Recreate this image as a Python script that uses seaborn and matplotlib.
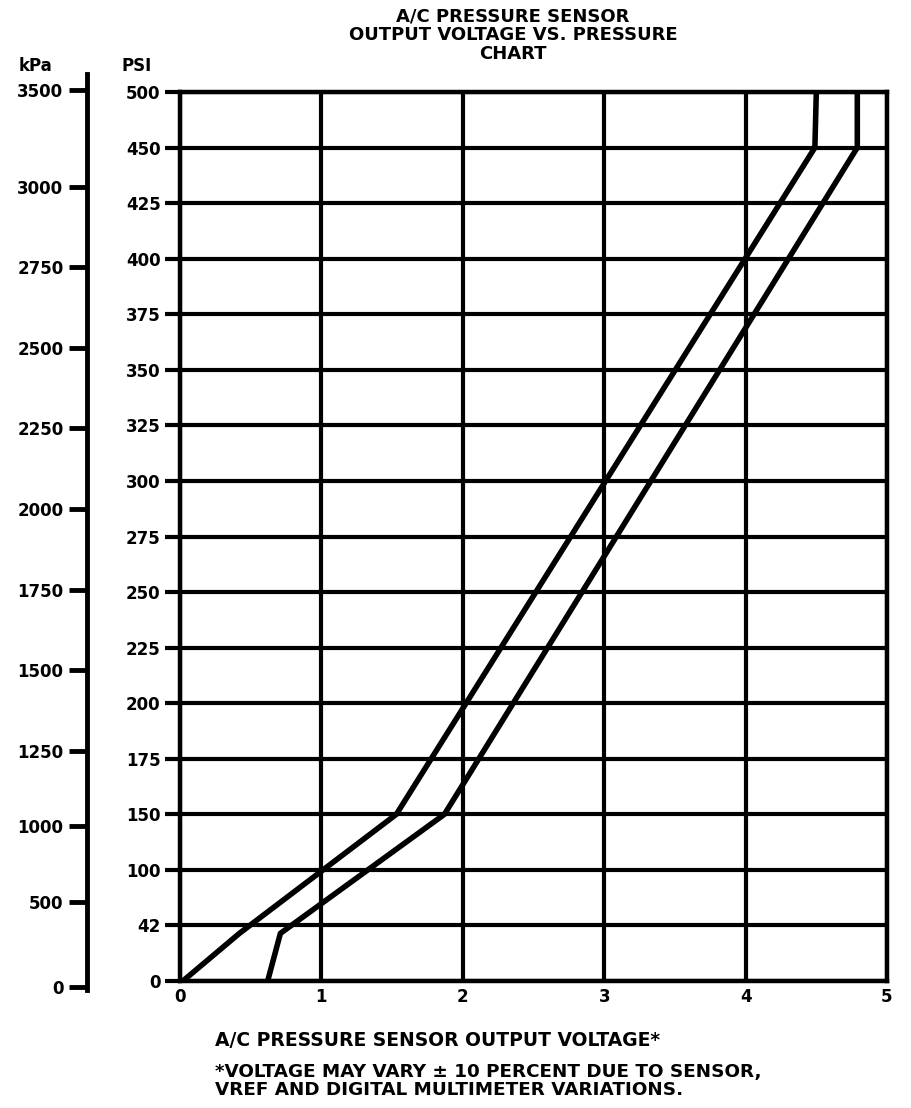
import numpy as np
import pandas as pd
import matplotlib
matplotlib.use("Agg")
import matplotlib.pyplot as plt
import seaborn as sns

# Axis labels of the chart (the PSI scale is not linear: rows are evenly spaced)
psi_ticks = [0, 42, 100, 150, 175, 200, 225, 250, 275, 300, 325, 350, 375, 400, 425, 450, 500]
kpa_ticks = [0, 500, 1000, 1250, 1500, 1750, 2000, 2250, 2500, 2750, 3000, 3500]
volt_ticks = [0, 1, 2, 3, 4, 5]

# Band edges: output voltage vs pressure (psi)
high_volts = [0.02, 0.42, 1.53, 4.49, 4.50]
high_psi = [0, 36, 150, 450, 500]
low_volts = [0.62, 0.71, 1.87, 4.79, 4.79]
low_psi = [0, 36, 150, 450, 500]

KPA_PER_PSI = 6.895


def psi_to_row(p):
    # map pressure onto the evenly spaced chart rows
    p = np.asarray(p, dtype=float)
    rows = np.interp(p, psi_ticks, np.arange(len(psi_ticks)))
    over = p > psi_ticks[-1]
    rows[over] = len(psi_ticks) - 1 + (p[over] - psi_ticks[-1]) / (psi_ticks[-1] - psi_ticks[-2])
    return rows


df = pd.concat([
    pd.DataFrame({'volts': high_volts, 'psi': high_psi, 'edge': 'high'}),
    pd.DataFrame({'volts': low_volts, 'psi': low_psi, 'edge': 'low'}),
])
df['row'] = psi_to_row(df['psi'])

sns.set_theme(style="white")
plt.rcParams['font.family'] = ['DejaVu Sans']
plt.rcParams['font.weight'] = 'bold'
plt.rcParams['text.color'] = 'black'

W, H = 912, 1108
fig = plt.figure(figsize=(W / 100, H / 100), dpi=100)
n_rows = len(psi_ticks) - 1
px_per_row = (981 - 92) / n_rows

# main grid
ax = fig.add_axes([180 / W, 1 - 981 / H, (887 - 180) / W, (981 - 92) / H])
for edge, grp in df.groupby('edge'):
    sns.lineplot(data=grp, x='volts', y='row', sort=False, estimator=None,
                 color='black', linewidth=4, ax=ax, zorder=5)
ax.set_xlim(0, 5)
ax.set_ylim(0, n_rows)
ax.set_xticks(volt_ticks, labels=[str(v) for v in volt_ticks])
ax.set_yticks(np.arange(len(psi_ticks)), labels=[str(p) for p in psi_ticks])
ax.grid(True, color='black', linewidth=3)
ax.tick_params(axis='y', left=True, length=11, width=3, pad=3, labelsize=12, colors='black')
ax.tick_params(axis='x', bottom=True, length=0, pad=5, labelsize=12, colors='black')
ax.set_xlabel('')
ax.set_ylabel('')
for s in ax.spines.values():
    s.set_visible(True)
    s.set_color('black')
    s.set_linewidth(3.2)

# separate kPa scale on the left
lo = (987 - 990) / px_per_row
hi = (987 - 74) / px_per_row
ax_k = fig.add_axes([87 / W, 1 - 990 / H, 0.0001, (990 - 74) / H])
ax_k.set_ylim(lo, hi)
ax_k.set_yticks(psi_to_row(np.array(kpa_ticks) / KPA_PER_PSI), labels=[str(k) for k in kpa_ticks])
ax_k.set_xticks([])
ax_k.tick_params(axis='y', left=True, length=13, width=3.5, pad=4, labelsize=12, colors='black')
for name, s in ax_k.spines.items():
    s.set_visible(name == 'left')
ax_k.spines['left'].set_color('black')
ax_k.spines['left'].set_linewidth(3.5)
ax_k.patch.set_visible(False)

fig.text(35 / W, 1 - 66 / H, 'kPa', ha='center', va='center', fontsize=12)
fig.text(137 / W, 1 - 66 / H, 'PSI', ha='center', va='center', fontsize=12)

fig.text(513 / W, 1 - 35 / H, 'A/C PRESSURE SENSOR\nOUTPUT VOLTAGE VS. PRESSURE\nCHART',
         ha='center', va='center', fontsize=13, linespacing=1.05)

fig.text(215 / W, 1 - 1040 / H, 'A/C PRESSURE SENSOR OUTPUT VOLTAGE*',
         ha='left', va='center', fontsize=13.5)
fig.text(215 / W, 1 - 1081 / H,
         '*VOLTAGE MAY VARY \u00b1 10 PERCENT DUE TO SENSOR,\nVREF AND DIGITAL MULTIMETER VARIATIONS.',
         ha='left', va='center', fontsize=13.2, linespacing=1.0)

fig.savefig('out.png', dpi=100)
